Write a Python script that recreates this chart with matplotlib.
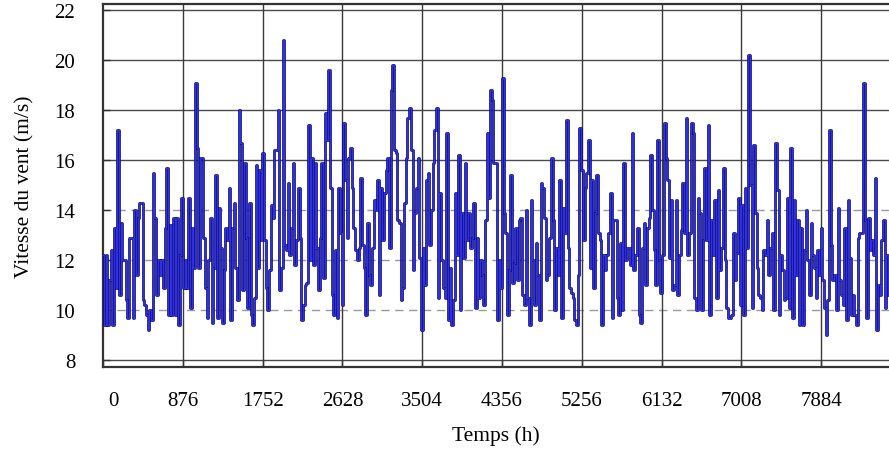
import numpy as np
import matplotlib
matplotlib.use("Agg")
import matplotlib.pyplot as plt
import matplotlib.transforms as mtransforms

plt.rcParams['font.family'] = ['Liberation Serif', 'DejaVu Serif']

# wind speed (m/s), left to right
vitesse = [
    # 0 - 1100 h
    12.2, 9.4, 12.2, 9.4, 11.2, 12.4, 9.4, 13.3, 10.9, 17.2, 10.6, 13.5, 12.0, 12.0, 10.4, 9.7,
    12.9, 12.9, 9.7, 14.0, 11.4, 13.7, 14.3, 14.3, 10.4, 10.2, 9.8, 9.2, 10.0, 9.6, 15.5, 13.7,
    10.6, 12.0, 11.4, 12.0, 10.9, 13.3, 15.7, 9.8, 13.4, 9.8, 13.7, 9.8, 13.7, 9.4, 12.2, 14.5,
    10.9, 12.0, 10.9, 14.5, 10.1,
    # 1100 - 2170 h
    13.3, 11.7, 19.1, 16.5, 11.7, 16.1, 16.1, 12.9, 10.9, 9.7, 12.0, 13.7, 9.5, 11.7, 15.4, 9.7,
    14.1, 12.5, 9.5, 11.6, 13.3, 12.8, 14.9, 9.6, 13.3, 14.3, 11.7, 10.4, 18.0, 16.7, 10.8, 15.9,
    12.9, 10.1, 14.3, 9.8, 9.4, 10.5, 15.8, 11.7, 15.6, 12.8, 16.3, 12.8, 10.9, 10.0, 11.6, 14.2,
    13.7, 16.4, 16.4, 18.0, 10.8, 11.7, 20.8, 12.6, 12.4, 15.1, 12.2,
    # 2170 - 3250 h
    13.3, 15.9, 11.8, 12.8, 14.9, 12.9, 9.6, 10.2, 11.0, 11.1, 17.4, 12.0, 16.1, 11.8, 15.9, 12.5,
    10.8, 12.9, 15.9, 11.3, 17.9, 16.8, 19.6, 14.9, 10.6, 9.8, 12.4, 9.7, 14.9, 13.1, 10.2, 17.5,
    15.2, 12.9, 16.1, 16.5, 14.9, 13.3, 12.4, 12.0, 12.5, 15.3, 12.6, 11.7, 9.8, 13.5, 11.4, 11.0,
    12.5, 14.4, 14.0, 15.2, 10.6, 14.9, 12.8, 14.7, 15.6,
    # 3250 - 4330 h
    16.1, 12.5, 18.8, 19.8, 16.4, 16.3, 13.6, 13.5, 10.4, 10.9, 14.3, 16.1, 17.7, 18.1, 16.4, 11.6,
    13.9, 14.9, 16.1, 12.1, 9.2, 12.5, 11.0, 15.2, 15.5, 12.6, 14.0, 15.9, 17.2, 18.1, 10.5, 14.7,
    12.0, 10.9, 10.5, 17.1, 9.6, 11.7, 9.4, 10.4, 14.7, 12.2, 16.2, 10.0, 13.9, 12.1, 15.9, 12.8,
    13.9, 12.5, 12.9, 14.3, 10.1, 12.9, 10.5, 12.0, 11.4, 10.2, 13.6,
    # 4330 - 5400 h
    17.1, 14.5, 18.8, 18.4, 15.9, 15.9, 9.6, 12.0, 10.9, 19.3, 13.9, 13.1, 9.8, 11.6, 15.4, 11.1,
    11.9, 13.3, 11.2, 13.6, 13.7, 10.6, 10.2, 14.0, 10.5, 9.4, 14.4, 12.0, 10.2, 12.7, 11.4, 9.6,
    15.1, 14.9, 13.7, 11.2, 11.4, 12.9, 16.1, 13.6, 10.0, 12.5, 11.4, 15.2, 9.7, 14.1, 13.1, 17.6,
    12.5, 10.9, 10.7, 10.5, 9.6, 9.4, 11.4, 17.3, 15.6, 12.8, 14.9, 15.5, 16.8,
    # 5400 - 6480 h
    11.7, 15.2, 10.9, 13.9, 15.4, 13.1, 12.8, 9.4, 12.2, 11.6, 12.2, 13.1, 14.7, 9.7, 13.6, 13.6,
    10.5, 9.8, 12.7, 10.0, 15.9, 12.0, 12.5, 12.5, 11.8, 17.1, 11.6, 12.2, 13.3, 9.8, 9.5, 12.5,
    13.5, 11.0, 13.3, 13.7, 16.2, 14.0, 12.4, 11.0, 16.8, 12.0, 10.7, 12.2, 17.5, 16.1, 15.2, 12.1,
    14.4, 10.8, 11.0, 14.4, 10.6, 12.2, 13.2, 15.1, 13.1, 17.7, 12.2,
    # 6480 - 7560 h
    13.1, 17.5, 17.1, 10.5, 10.0, 14.5, 13.9, 10.0, 12.8, 15.7, 12.8, 17.4, 9.8, 13.6, 12.2, 14.4,
    10.5, 14.8, 11.6, 12.5, 15.7, 12.0, 10.1, 9.7, 9.7, 9.8, 13.1, 11.2, 12.3, 14.5, 10.2, 14.2,
    9.8, 14.9, 12.5, 20.2, 15.0, 10.1, 16.6, 13.9, 11.7, 10.6, 10.5, 10.0, 12.4, 12.2, 13.6, 11.4,
    12.5, 13.1, 10.0, 16.7, 14.8, 9.8, 12.2, 11.6, 10.4, 10.5, 14.5, 10.1,
    # 7560 - 8630 h
    16.5, 9.7, 14.4, 11.4, 13.6, 9.4, 13.3, 9.4, 12.4, 14.0, 12.0, 10.6, 13.5, 12.2, 11.7, 10.5,
    12.4, 11.4, 13.3, 11.2, 10.1, 9.0, 10.4, 17.2, 12.6, 11.2, 11.4, 10.0, 14.1, 11.2, 10.6, 10.2,
    13.3, 9.6, 14.4, 12.1, 9.8, 10.6, 9.8, 9.4, 12.9, 13.1, 13.1, 19.1, 13.6, 9.7, 13.7, 12.4,
    12.8, 12.2, 15.3, 9.2, 11.0, 10.6, 12.8, 13.6, 10.1, 12.2, 10.6,
]
temps_fin = 8628
temps = np.linspace(0, temps_fin, len(vitesse))

xticks = [0, 876, 1752, 2628, 3504, 4380, 5256, 6132, 7008, 7884]
xlabels = ['0', '876', '1752', '2628', '3504', '4356', '5256', '6132', '7008', '7884']
yticks = [8, 10, 12, 14, 16, 18, 20, 22]

fig = plt.figure(figsize=(8.89, 4.52), dpi=100)
ax = fig.add_axes([103/889, 1-368/452, 1-103/889, (368-5)/452])

# gridlines: solid at most levels, dashed grey at 10, 12, 14
for yv in yticks:
    if yv in (10, 12, 14):
        ax.axhline(yv, color='#9a9a9a', lw=1.0, ls=(0, (6, 4)), zorder=1)
    else:
        ax.axhline(yv, color='#4a4a4a', lw=1.0, zorder=1)
for xv in xticks[1:]:
    ax.axvline(xv, color='#3a3a3a', lw=1.0, zorder=1)

ax.plot(temps, vitesse, color='#08086a', lw=1.9, drawstyle='steps-mid', zorder=3)
ax.plot(temps, vitesse, color='#3030dd', lw=1.0, drawstyle='steps-mid', zorder=4)

ax.set_xlim(0, temps_fin)
ax.set_ylim(7.72, 22.24)
ax.set_xticks(xticks)
ax.set_xticklabels(xlabels)
ax.set_yticks(yticks)
ax.tick_params(axis='both', direction='in', length=5, width=1, color='#333333', labelsize=15)
ax.tick_params(axis='y', pad=20)
ax.tick_params(axis='x', pad=17)

# first label sits a little right of the axis
lab0 = ax.get_xticklabels()[0]
lab0.set_transform(lab0.get_transform() + mtransforms.ScaledTranslation(10/100, 0, fig.dpi_scale_trans))

for s in ['left', 'bottom', 'top']:
    ax.spines[s].set_color('#333333')
    ax.spines[s].set_linewidth(1.6)
ax.spines['right'].set_visible(False)

ax.set_xlabel('Temps (h)', fontsize=15.5, labelpad=11)
ax.set_ylabel('Vitesse du vent (m/s)', fontsize=15.5, labelpad=14)

fig.savefig('out.png', dpi=100)
